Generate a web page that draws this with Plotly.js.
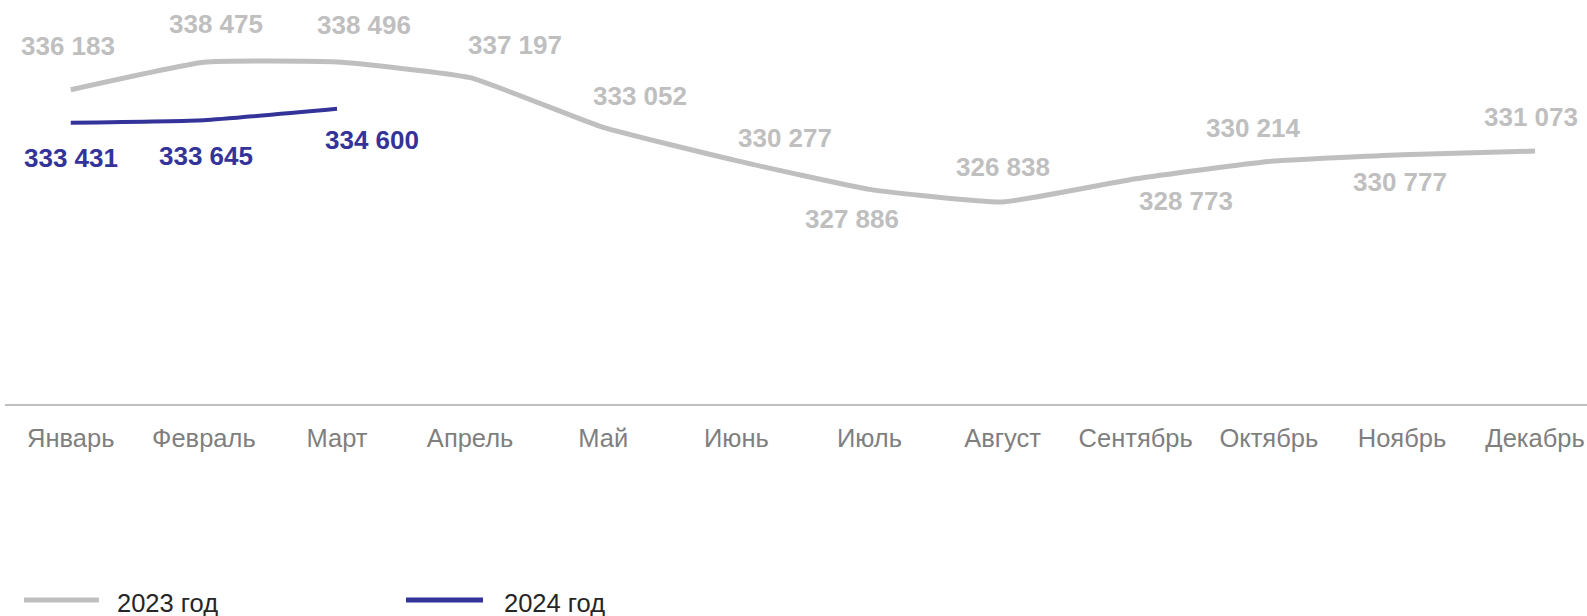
<!DOCTYPE html>
<html>
<head>
<meta charset="utf-8">
<script src="https://cdn.plot.ly/plotly-3.0.1.min.js"></script>
<style>
html,body{margin:0;padding:0;background:#fff;}
#chart{width:1587px;height:616px;}
</style>
</head>
<body>
<div id="chart"></div>
<script>
const months = ["Январь","Февраль","Март","Апрель","Май","Июнь","Июль","Август","Сентябрь","Октябрь","Ноябрь","Декабрь"];
const values2023 = [336183,338475,338496,337197,333052,330277,327886,326838,328773,330214,330777,331073];
const months2024 = ["Январь","Февраль","Март"];
const values2024 = [333431,333645,334600];
const seriesNames = ["2023 год","2024 год"];

// label placement offsets (pixels, relative to the point)
const dx2023 = [-3,12,27,45,37,49,-17,0,50,-15,-2,-4];
const dy2023 = [-43.5,-38.4,-37.4,-33,-31.3,-23,30,-35,22,-33,27.5,-33.7];
const dx2024 = [0,2,35];
const dy2024 = [35,35.6,31];

const grey = "#bfbfbf";
const navy = "#333399";

function fmt(v){ return String(v).replace(/\B(?=(\d{3})+(?!\d))/g, "\u00a0"); }

const traces = [
  {x: months, y: values2023, type: "scatter", mode: "lines", name: seriesNames[0],
   line: {color: grey, width: 5, shape: "spline", smoothing: 0.4}, hoverinfo: "skip"},
  {x: months2024, y: values2024, type: "scatter", mode: "lines", name: seriesNames[1],
   line: {color: navy, width: 4, shape: "spline", smoothing: 0.4}, hoverinfo: "skip"}
];

const annotations = [];
values2023.forEach((v,i)=>{
  annotations.push({x: months[i], y: v, xref: "x", yref: "y", text: fmt(v), showarrow: false,
    xshift: dx2023[i], yshift: -dy2023[i], xanchor: "center", yanchor: "middle",
    font: {family: "Liberation Sans, Arial, sans-serif", size: 26, color: grey, weight: 700}});
});
values2024.forEach((v,i)=>{
  annotations.push({x: months2024[i], y: v, xref: "x", yref: "y", text: fmt(v), showarrow: false,
    xshift: dx2024[i], yshift: -dy2024[i], xanchor: "center", yanchor: "middle",
    font: {family: "Liberation Sans, Arial, sans-serif", size: 26, color: navy, weight: 700}});
});

// custom legend
const L = 5, W = 1582, B = 404, H = 360;
const px = p => (p - L) / W;
const py = p => (B - p) / H;
const legendItems = [
  {name: seriesNames[0], color: grey, x0: 24, x1: 99, tx: 115},
  {name: seriesNames[1], color: navy, x0: 406, x1: 483, tx: 502}
];
const shapes = [];
legendItems.forEach(it=>{
  shapes.push({type: "line", xref: "paper", yref: "paper", x0: px(it.x0), x1: px(it.x1), y0: py(600), y1: py(600),
    line: {color: it.color, width: 5}});
  annotations.push({xref: "paper", yref: "paper", x: px(it.tx), y: py(603), text: it.name, showarrow: false,
    xanchor: "left", yanchor: "middle",
    font: {family: "Liberation Sans, Arial, sans-serif", size: 25.5, color: "#262626"}});
});

const layout = {
  width: 1587, height: 616,
  margin: {l: L, r: 0, t: 44, b: 212},
  paper_bgcolor: "#fff", plot_bgcolor: "#fff",
  showlegend: false,
  xaxis: {type: "category", categoryorder: "array", categoryarray: months,
    range: [-0.494, 11.39], showgrid: false, zeroline: false,
    showline: true, linecolor: grey, linewidth: 2, ticks: "",
    tickfont: {family: "Liberation Sans, Arial, sans-serif", size: 25.5, color: "#7f7f7f"},
    ticklabelstandoff: 10, fixedrange: true},
  yaxis: {range: [310000, 340000], visible: false, showgrid: false, zeroline: false, fixedrange: true},
  annotations: annotations,
  shapes: shapes
};

Plotly.newPlot("chart", traces, layout, {displayModeBar: false, staticPlot: true});
</script>
</body>
</html>
